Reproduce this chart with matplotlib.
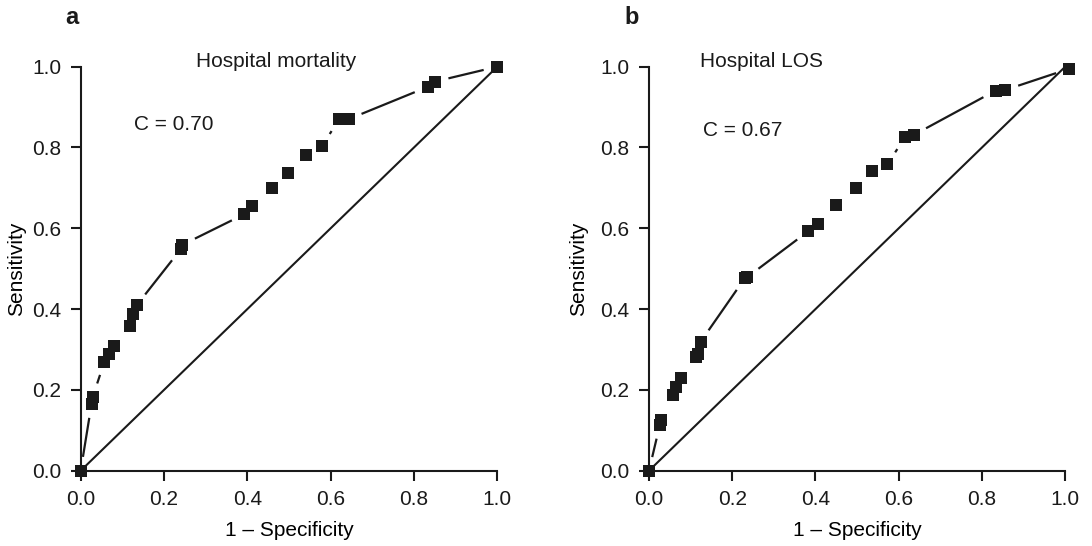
import numpy as np
import matplotlib
matplotlib.use("Agg")
import matplotlib.pyplot as plt

# ROC points: 1 - specificity (x) and sensitivity (y)
mort_fpr = [0.0, 0.026, 0.029, 0.057, 0.068, 0.080, 0.118, 0.125, 0.134,
            0.240, 0.244, 0.393, 0.412, 0.460, 0.498, 0.541, 0.580,
            0.620, 0.631, 0.643, 0.833, 0.850, 1.0]
mort_tpr = [0.0, 0.165, 0.183, 0.270, 0.290, 0.309, 0.358, 0.389, 0.409,
            0.548, 0.559, 0.635, 0.655, 0.700, 0.737, 0.781, 0.804,
            0.870, 0.870, 0.870, 0.950, 0.963, 1.0]

los_fpr = [0.0, 0.026, 0.030, 0.057, 0.065, 0.078, 0.113, 0.118, 0.124,
           0.230, 0.236, 0.383, 0.406, 0.450, 0.498, 0.535, 0.573,
           0.615, 0.636, 0.833, 0.855, 1.01]
los_tpr = [0.0, 0.113, 0.125, 0.187, 0.208, 0.229, 0.281, 0.290, 0.319,
           0.476, 0.479, 0.593, 0.611, 0.657, 0.700, 0.742, 0.759,
           0.825, 0.831, 0.941, 0.942, 0.995]

panel_letters = ["a", "b"]
panel_titles = ["Hospital mortality", "Hospital LOS"]
c_stats = ["C = 0.70", "C = 0.67"]
ticks = [0.0, 0.2, 0.4, 0.6, 0.8, 1.0]
tick_labels = ["0.0", "0.2", "0.4", "0.6", "0.8", "1.0"]

INK = "#1a1a1a"
plt.rcParams["font.family"] = ["Liberation Sans", "DejaVu Sans"]
plt.rcParams["text.color"] = INK

fig = plt.figure(figsize=(10.92, 5.46), dpi=100)
fig.patch.set_facecolor("white")

axes_rects = [[0.0739, 0.1379, 0.3815, 0.74],
              [0.5943, 0.1379, 0.3812, 0.74]]


def gapped_line(ax, xs, ys, gap_px=13, **kw):
    """Connect points with segments that stop short of each marker."""
    pts = ax.transData.transform(np.column_stack([xs, ys]))
    inv = ax.transData.inverted()
    for p0, p1 in zip(pts[:-1], pts[1:]):
        d = p1 - p0
        length = np.hypot(*d)
        if length <= 2 * gap_px:
            continue
        u = d / length
        a = inv.transform(p0 + u * gap_px)
        b = inv.transform(p1 - u * gap_px)
        ax.plot([a[0], b[0]], [a[1], b[1]], **kw)


series = [(mort_fpr, mort_tpr), (los_fpr, los_tpr)]
title_pos = [(0.47, 1.012, "center"), (0.1225, 1.012, "left")]
c_pos = [(0.128, 0.856), (0.13, 0.843)]
letter_pos = [(71.7, 18), (631.7, 18)]
ylabel_x = [-0.155, -0.168]

for i, ax_rect in enumerate(axes_rects):
    ax = fig.add_axes(ax_rect)
    ax.set_xlim(0, 1)
    ax.set_ylim(0, 1)
    ax.set_facecolor("white")
    for side in ["top", "right"]:
        ax.spines[side].set_visible(False)
    for side in ["left", "bottom"]:
        ax.spines[side].set_linewidth(1.5)
        ax.spines[side].set_color(INK)
    ax.set_xticks(ticks)
    ax.set_xticklabels(tick_labels)
    ax.set_yticks(ticks)
    ax.set_yticklabels(tick_labels)
    ax.tick_params(direction="out", length=7, width=1.5, color=INK,
                   labelsize=15, labelcolor=INK, pad=7)

    # reference diagonal
    ax.plot([0, 1], [0, 1], color=INK, lw=1.5, solid_capstyle="butt")

    fpr, tpr = series[i]
    gapped_line(ax, fpr, tpr, gap_px=14, color=INK, lw=1.6,
                solid_capstyle="butt")
    ax.plot(fpr, tpr, linestyle="none", marker="s", markersize=8.5,
            color=INK, markeredgewidth=0, clip_on=False, zorder=5)

    tx, ty, tha = title_pos[i]
    ax.text(tx, ty, panel_titles[i], ha=tha, va="center", fontsize=15,
            transform=ax.transData)
    ax.text(c_pos[i][0], c_pos[i][1], c_stats[i], ha="left", va="center",
            fontsize=15)

    ax.set_xlabel("1 \u2013 Specificity", fontsize=15)
    ax.xaxis.set_label_coords(0.5, -0.147)
    ax.xaxis.label.set_va("center")
    ax.set_ylabel("Sensitivity", fontsize=15)
    ax.yaxis.set_label_coords(ylabel_x[i], 0.5)
    ax.yaxis.label.set_va("center")

    lx, ly = letter_pos[i]
    fig.text(lx / 1092, 1 - ly / 546, panel_letters[i], fontsize=17,
             fontweight="bold", ha="center", va="center")

fig.savefig("out.png", dpi=100, facecolor="white")
